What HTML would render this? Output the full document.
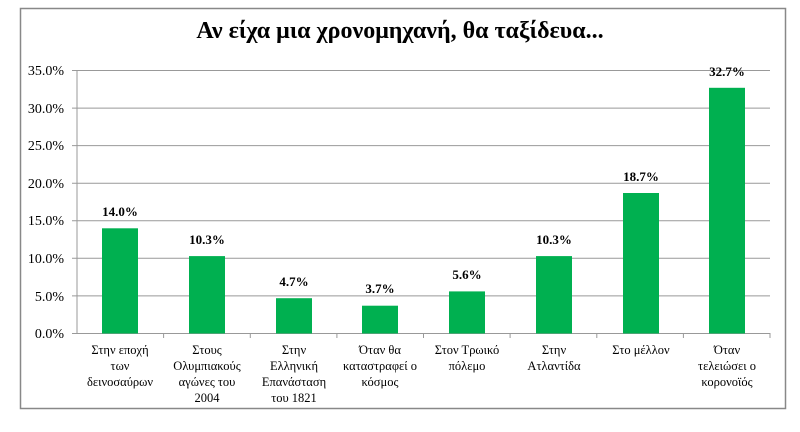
<!DOCTYPE html>
<html><head><meta charset="utf-8"><style>body{margin:0;background:#fff}</style></head><body>
<svg width="800" height="427" xmlns="http://www.w3.org/2000/svg" font-family="Liberation Serif, serif">
<rect x="20.5" y="8.5" width="765" height="400" fill="#fff" stroke="#888" stroke-width="1.5"/>
<text x="400" y="38" text-anchor="middle" font-size="24" font-weight="bold">Αν είχα μια χρονομηχανή, θα ταξίδευα...</text>
<g stroke="#999" stroke-width="1">
<line x1="72" y1="70.5" x2="770" y2="70.5"/><line x1="72" y1="108.1" x2="770" y2="108.1"/>
<line x1="72" y1="145.6" x2="770" y2="145.6"/><line x1="72" y1="183.2" x2="770" y2="183.2"/>
<line x1="72" y1="220.8" x2="770" y2="220.8"/><line x1="72" y1="258.3" x2="770" y2="258.3"/>
<line x1="72" y1="295.9" x2="770" y2="295.9"/><line x1="72" y1="333.5" x2="770" y2="333.5"/>
<line x1="77" y1="70" x2="77" y2="334"/>
<line x1="163.6" y1="333" x2="163.6" y2="338"/><line x1="250.3" y1="333" x2="250.3" y2="338"/>
<line x1="336.9" y1="333" x2="336.9" y2="338"/><line x1="423.5" y1="333" x2="423.5" y2="338"/>
<line x1="510.1" y1="333" x2="510.1" y2="338"/><line x1="596.8" y1="333" x2="596.8" y2="338"/>
<line x1="683.4" y1="333" x2="683.4" y2="338"/><line x1="770" y1="333" x2="770" y2="338"/>
</g>
<g font-size="14" text-anchor="end">
<text x="64" y="75">35.0%</text><text x="64" y="113">30.0%</text><text x="64" y="150">25.0%</text>
<text x="64" y="188">20.0%</text><text x="64" y="225">15.0%</text><text x="64" y="263">10.0%</text>
<text x="64" y="301">5.0%</text><text x="64" y="338">0.0%</text>
</g>
<g fill="#00b050">
<rect x="102" y="228.3" width="36" height="105.2"/>
<rect x="189" y="256.1" width="36" height="77.4"/>
<rect x="276" y="298.2" width="36" height="35.3"/>
<rect x="362" y="305.7" width="36" height="27.8"/>
<rect x="449" y="291.4" width="36" height="42.1"/>
<rect x="536" y="256.1" width="36" height="77.4"/>
<rect x="623" y="193" width="36" height="140.5"/>
<rect x="709" y="87.8" width="36" height="245.7"/>
</g>
<g font-size="13" font-weight="bold" text-anchor="middle">
<text x="120" y="216">14.0%</text><text x="207" y="244">10.3%</text><text x="294" y="286">4.7%</text>
<text x="380" y="293">3.7%</text><text x="467" y="279">5.6%</text><text x="554" y="244">10.3%</text>
<text x="641" y="181">18.7%</text><text x="727" y="76">32.7%</text>
</g>
<g font-size="12.5" text-anchor="middle">
<text x="120" y="354">Στην εποχή</text><text x="120" y="370">των</text><text x="120" y="386">δεινοσαύρων</text>
<text x="207" y="354">Στους</text><text x="207" y="370">Ολυμπιακούς</text><text x="207" y="386">αγώνες του</text><text x="207" y="402">2004</text>
<text x="294" y="354">Στην</text><text x="294" y="370">Ελληνική</text><text x="294" y="386">Επανάσταση</text><text x="294" y="402">του 1821</text>
<text x="380" y="354">Όταν θα</text><text x="380" y="370">καταστραφεί ο</text><text x="380" y="386">κόσμος</text>
<text x="467" y="354">Στον Τρωικό</text><text x="467" y="370">πόλεμο</text>
<text x="554" y="354">Στην</text><text x="554" y="370">Ατλαντίδα</text>
<text x="641" y="354">Στο μέλλον</text>
<text x="727" y="354">Όταν</text><text x="727" y="370">τελειώσει ο</text><text x="727" y="386">κορονοϊός</text>
</g>
</svg>
</body></html>
